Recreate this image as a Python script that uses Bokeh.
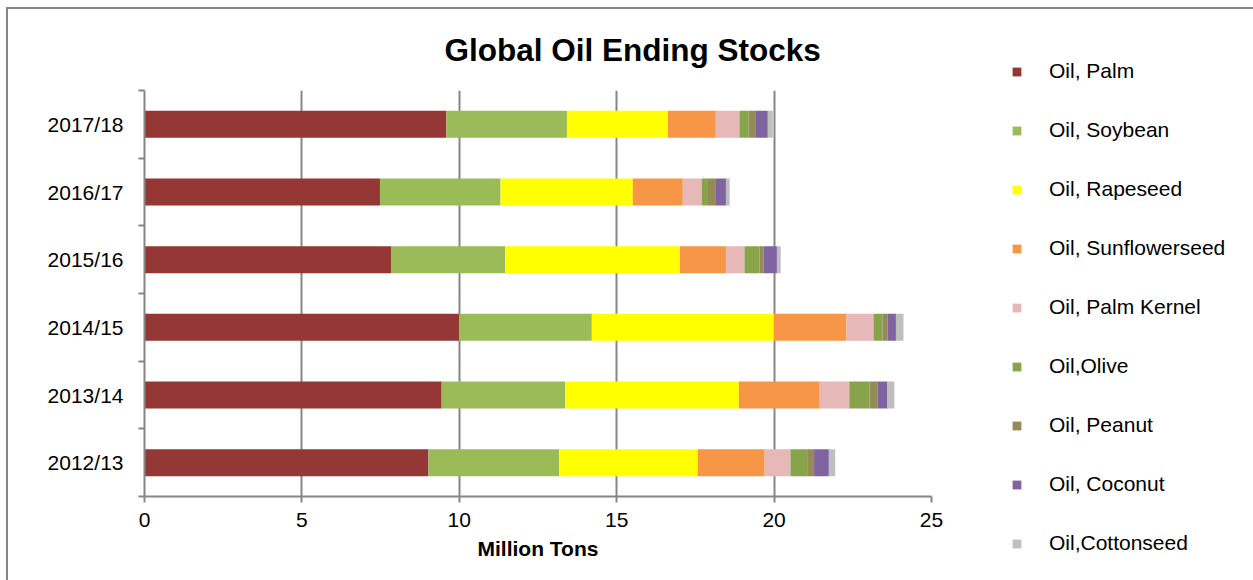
from bokeh.plotting import figure
from bokeh.models import (Range1d, FixedTicker, Legend, LegendItem, ColumnDataSource, Title)
from bokeh.embed import file_html
from bokeh.resources import INLINE

years = ["2012/13", "2013/14", "2014/15", "2015/16", "2016/17", "2017/18"]
series = ["Oil, Palm", "Oil, Soybean", "Oil, Rapeseed", "Oil, Sunflowerseed",
          "Oil, Palm Kernel", "Oil,Olive", "Oil, Peanut", "Oil, Coconut", "Oil,Cottonseed"]
palm = [9.02, 9.44, 9.99, 7.83, 7.48, 9.59]
soybean = [4.15, 3.92, 4.22, 3.63, 3.83, 3.83]
rapeseed = [4.40, 5.52, 5.78, 5.55, 4.20, 3.21]
sunflower = [2.13, 2.57, 2.31, 1.46, 1.59, 1.52]
palm_kernel = [0.82, 0.94, 0.86, 0.59, 0.60, 0.75]
olive = [0.53, 0.64, 0.28, 0.48, 0.20, 0.29]
peanut = [0.22, 0.25, 0.16, 0.13, 0.23, 0.21]
coconut = [0.47, 0.32, 0.27, 0.42, 0.34, 0.40]
cottonseed = [0.20, 0.22, 0.24, 0.12, 0.12, 0.16]
x_ticks = [0, 5, 10, 15, 20, 25]

colors = ["#953735", "#9BBB59", "#FFFF00", "#F79646", "#E6B9B8",
          "#88A44B", "#958B55", "#8064A2", "#BFBFBF"]
keys = ["palm", "soybean", "rapeseed", "sunflower", "palm_kernel",
        "olive", "peanut", "coconut", "cottonseed"]
values = [palm, soybean, rapeseed, sunflower, palm_kernel, olive, peanut, coconut, cottonseed]

ypos = [i + 0.5 for i in range(len(years))]
data = {"y": ypos}
for k, v in zip(keys, values):
    data[k] = v
source = ColumnDataSource(data)

FONT = "Liberation Sans"
GREY = "#868686"

p = figure(width=1245, height=571, frame_width=787, frame_height=406,
           min_border_left=136, min_border_right=322, min_border_top=81, min_border_bottom=84,
           x_range=Range1d(0, 25), y_range=Range1d(0, len(years)),
           output_backend="svg", toolbar_location=None, tools="",
           margin=(7, 0, 0, 6),
           styles={"border-left": "2px solid #868686", "border-top": "2px solid #868686"})
p.outline_line_color = None
p.background_fill_color = "white"
p.border_fill_color = "white"

renderers = p.hbar_stack(keys, y="y", height=0.4, color=colors, source=source, line_color=None)

# title
t = Title(text="Global Oil Ending Stocks", text_font=FONT, text_font_size="31.5px",
          text_font_style="bold", text_color="black", align="left", offset=300, standoff=42,
          vertical_align="top")
p.add_layout(t, "above")

# x axis
xa = p.xaxis[0]
xa.ticker = FixedTicker(ticks=x_ticks, minor_ticks=[])
xa.axis_line_color = GREY
xa.axis_line_width = 2
xa.major_tick_line_color = GREY
xa.major_tick_line_width = 2
xa.major_tick_out = 6
xa.major_tick_in = 0
xa.minor_tick_line_color = None
xa.major_label_text_font = FONT
xa.major_label_text_font_size = "21px"
xa.major_label_text_color = "black"
xa.major_label_standoff = 10
xa.axis_label = "Million Tons"
xa.axis_label_text_font = FONT
xa.axis_label_text_font_size = "21px"
xa.axis_label_text_font_style = "bold"
xa.axis_label_text_color = "black"
xa.axis_label_standoff = 7

# y axis
ya = p.yaxis[0]
ya.ticker = FixedTicker(ticks=ypos, minor_ticks=list(range(len(years) + 1)))
ya.major_label_overrides = {y: lab for y, lab in zip(ypos, years)}
ya.axis_line_color = GREY
ya.axis_line_width = 2
ya.major_tick_line_color = None
ya.major_tick_out = 0
ya.major_tick_in = 0
ya.minor_tick_line_color = GREY
ya.minor_tick_line_width = 2
ya.minor_tick_out = 6
ya.minor_tick_in = 0
ya.major_label_text_font = FONT
ya.major_label_text_font_size = "21px"
ya.major_label_text_color = "black"
ya.major_label_standoff = 15

p.xgrid.ticker = FixedTicker(ticks=x_ticks)
p.xgrid.grid_line_color = GREY
p.xgrid.grid_line_width = 2
p.ygrid.grid_line_color = None

legend = Legend(items=[LegendItem(label=s, renderers=[r]) for s, r in zip(series, renderers)],
                location=(80, -59), orientation="vertical",
                glyph_width=11, glyph_height=11, label_standoff=27,
                label_text_font=FONT, label_text_font_size="21px", label_text_color="black",
                label_height=20, spacing=35, padding=0, margin=0,
                border_line_color=None, background_fill_alpha=0)
p.add_layout(legend, "right")

open("out.html", "w").write(file_html(p, INLINE))
